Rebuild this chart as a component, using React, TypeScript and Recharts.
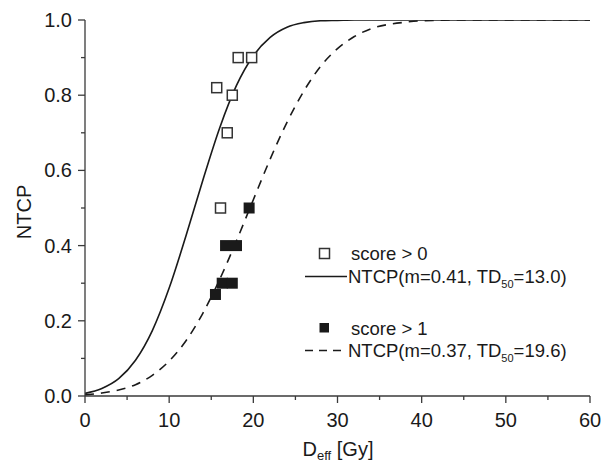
import React from 'react';
import { ComposedChart, Line, Scatter, XAxis, YAxis, Customized } from 'recharts';

// Dose grid (Gy) and NTCP model curves
const doses = [0, 2, 4, 6, 8, 10, 12, 14, 16, 18, 20, 22, 24, 26, 28, 30, 32, 34, 36, 38, 40, 42, 44, 50, 55, 60];
const ntcpScore0Fit = [0.007, 0.02, 0.046, 0.095, 0.174, 0.287, 0.426, 0.574, 0.713, 0.826, 0.905, 0.954, 0.981, 0.993, 0.998, 0.999, 1.0, 1.0, 1.0, 1.0, 1.0, 1.0, 1.0, 1.0, 1.0, 1.0];
const ntcpScore1Fit = [0.003, 0.008, 0.016, 0.03, 0.055, 0.093, 0.147, 0.22, 0.31, 0.413, 0.522, 0.63, 0.728, 0.811, 0.877, 0.924, 0.956, 0.977, 0.988, 0.994, 0.998, 0.999, 1.0, 1.0, 1.0, 1.0];

// Observed points
const score0Dose = [15.65, 16.9, 17.5, 18.2, 19.8, 16.1];
const score0Ntcp = [0.82, 0.7, 0.8, 0.9, 0.9, 0.5];
const score1Dose = [15.5, 16.3, 17.5, 16.7, 18.0, 19.5];
const score1Ntcp = [0.27, 0.3, 0.3, 0.4, 0.4, 0.5];

const xTicks = [0, 5, 10, 15, 20, 25, 30, 35, 40, 45, 50, 55, 60];
const yTicks = [0, 0.1, 0.2, 0.3, 0.4, 0.5, 0.6, 0.7, 0.8, 0.9, 1.0];

const curveData = doses.map((d, i) => ({ x: d, fit0: ntcpScore0Fit[i], fit1: ntcpScore1Fit[i] }));
const score0Data = score0Dose.map((d, i) => ({ x: d, y: score0Ntcp[i] }));
const score1Data = score1Dose.map((d, i) => ({ x: d, y: score1Ntcp[i] }));

const FONT = '"Liberation Sans", Arial, Helvetica, sans-serif';
const INK = '#1a1a1a';
const AXIS = '#3a3a3a';

const XTick = (props: any) => {
  const { x, y, payload } = props;
  const v = payload.value;
  const major = v % 10 === 0;
  return (
    <g>
      <line x1={x} y1={y} x2={x} y2={y + (major ? 7 : 4)} stroke={AXIS} strokeWidth={1.3} />
      {major && (
        <text x={x} y={y + 31} textAnchor="middle" fontFamily={FONT} fontSize={20} fill={INK}>
          {v}
        </text>
      )}
    </g>
  );
};

const YTick = (props: any) => {
  const { x, y, payload } = props;
  const v = payload.value;
  const major = Math.round(v * 10) % 2 === 0;
  return (
    <g>
      <line x1={x} y1={y} x2={x - (major ? 7 : 4)} y2={y} stroke={AXIS} strokeWidth={1.3} />
      {major && (
        <text x={x - 13} y={y + 7} textAnchor="end" fontFamily={FONT} fontSize={20} fill={INK}>
          {v.toFixed(1)}
        </text>
      )}
    </g>
  );
};

const OpenSquare = (props: any) => {
  const { cx, cy } = props;
  return <rect x={cx - 5} y={cy - 5} width={10} height={10} fill="#fff" stroke="#333" strokeWidth={1.5} />;
};

const FilledSquare = (props: any) => {
  const { cx, cy } = props;
  return <rect x={cx - 5.5} y={cy - 5.5} width={11} height={11} fill={INK} stroke="none" />;
};

const Decorations = () => (
  <g fontFamily={FONT} fill={INK}>
    {/* axis titles */}
    <text x={24} y={212} textAnchor="middle" transform="rotate(-90 24 212)" dy={7} fontSize={20}>NTCP</text>
    <text x={338} y={456} textAnchor="middle" fontSize={20}>
      D<tspan fontSize={13} dy={4}>eff</tspan>
      <tspan dy={-4}> [Gy]</tspan>
    </text>
    {/* legend */}
    <g fontSize={18.5}>
      <rect x={319.5} y={248.5} width={10} height={10} fill="#fff" stroke="#333" strokeWidth={1.5} />
      <text x={351} y={260}>score &gt; 0</text>
      <line x1={305} y1={276.5} x2={347} y2={276.5} stroke={INK} strokeWidth={1.6} />
      <text x={348} y={283}>
        NTCP(m=0.41, TD<tspan fontSize={11} dy={5}>50</tspan>
        <tspan dy={-5}>=13.0)</tspan>
      </text>
      <rect x={319.5} y={323} width={9.5} height={9.5} fill={INK} />
      <text x={351} y={334.5}>score &gt; 1</text>
      <line x1={305} y1={350.5} x2={347} y2={350.5} stroke={INK} strokeWidth={1.6} strokeDasharray="8 6" />
      <text x={348} y={357}>
        NTCP(m=0.37, TD<tspan fontSize={11} dy={5}>50</tspan>
        <tspan dy={-5}>=19.6)</tspan>
      </text>
    </g>
  </g>
);

export default function App() {
  return (
    <div style={{ position: 'absolute', left: 0, top: 0, width: 611, height: 467, background: '#fff' }}>
      <ComposedChart
        width={611}
        height={467}
        data={curveData}
        margin={{ top: 20, right: 21, bottom: 21, left: 0 }}
      >
        <XAxis
          dataKey="x"
          type="number"
          domain={[0, 60]}
          ticks={xTicks}
          interval={0}
          height={50}
          tickSize={0}
          tickMargin={0}
          tickLine={false}
          axisLine={{ stroke: AXIS, strokeWidth: 1.3 }}
          tick={<XTick />}
          allowDataOverflow
        />
        <YAxis
          type="number"
          domain={[0, 1]}
          ticks={yTicks}
          interval={0}
          width={85}
          tickSize={0}
          tickMargin={0}
          tickLine={false}
          axisLine={{ stroke: AXIS, strokeWidth: 1.3 }}
          tick={<YTick />}
          allowDataOverflow
        />
        <Line
          type="monotone"
          dataKey="fit1"
          stroke={INK}
          strokeWidth={1.6}
          strokeDasharray="9 7"
          dot={false}
          activeDot={false}
          isAnimationActive={false}
        />
        <Line
          type="monotone"
          dataKey="fit0"
          stroke={INK}
          strokeWidth={1.6}
          dot={false}
          activeDot={false}
          isAnimationActive={false}
        />
        <Scatter data={score0Data} dataKey="y" shape={<OpenSquare />} isAnimationActive={false} />
        <Scatter data={score1Data} dataKey="y" shape={<FilledSquare />} isAnimationActive={false} />
        <Customized component={<Decorations />} />
      </ComposedChart>
    </div>
  );
}
